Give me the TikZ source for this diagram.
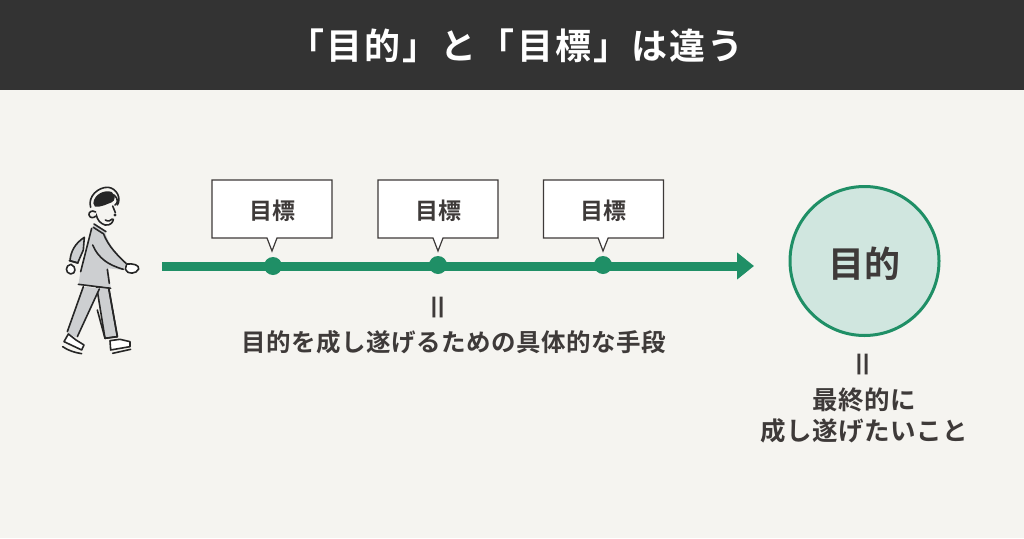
\documentclass[tikz,border=0pt]{standalone}
\usepackage{fontspec}
\usepackage{xcolor}
\usetikzlibrary{arrows.meta,shapes.callouts}
\setmainfont{Noto Sans CJK JP}[BoldFont={* Bold}]
\definecolor{paper}{HTML}{F5F4F0}
\definecolor{band}{HTML}{333333}
\definecolor{ink}{HTML}{3E3A39}
\definecolor{leaf}{HTML}{1F8F66}
\definecolor{pale}{HTML}{D0E6DF}
\definecolor{suit}{HTML}{CDCFD1}
\tikzset{
  markbox/.style={rectangle callout, draw=ink, line width=1.2pt, fill=white!99!paper,
    minimum width=120pt, minimum height=58pt, inner sep=0pt, callout pointer width=10pt,
    text=ink, font=\fontsize{23}{23}\selectfont\bfseries},
  stopdot/.style={circle, fill=leaf, minimum size=18pt, inner sep=0pt},
  equalbar/.style={rotate=90, text=ink, font=\fontsize{28}{28}\selectfont\bfseries, inner sep=0pt},
  caption/.style={text=ink, align=center, inner sep=0pt, font=\fontsize{24.5}{31}\selectfont\bfseries\addfontfeature{LetterSpace=2}},
  figline/.style={draw=black!85, line width=1.6pt, line cap=round, line join=round},
}
\begin{document}
\begin{tikzpicture}[x=1pt,y=-1pt]
\useasboundingbox (0,0) rectangle (1024,538);
\fill[paper] (0,0) rectangle (1024,538);
\fill[band] (0,0) rectangle (1024,90);
\node (title) at (516,46) [text=white, inner sep=0pt, font=\fontsize{36}{36}\selectfont\bfseries\addfontfeature{LetterSpace=6}] {「目的」と「目標」は違う};

% timeline
\coordinate (linestart) at (162,266);
\coordinate (lineend) at (754,266);
\draw[leaf, line width=9pt, -{Triangle[length=17pt,width=26pt]}] (linestart) -- (lineend);
\node (stopA) at (273,266) [stopdot] {};
\node (stopB) at (438,265) [stopdot] {};
\node (stopC) at (603,265) [stopdot] {};

\coordinate (tipA) at (272,251);
\coordinate (tipB) at (438,251);
\coordinate (tipC) at (603,251);
\node (markA) at (272,209) [markbox, callout absolute pointer={(tipA)}] {\raisebox{-1.5pt}[\height][\depth]{目標}};
\node (markB) at (438,209) [markbox, callout absolute pointer={(tipB)}] {\raisebox{-1.5pt}[\height][\depth]{目標}};
\node (markC) at (603.5,209) [markbox, callout absolute pointer={(tipC)}] {\raisebox{-1.5pt}[\height][\depth]{目標}};

\node (barsB) at (440.5,308) [equalbar] {\scalebox{1.45}[1]{=}};
\node (meansB) at (454,342) [caption] {目的を成し遂げるための具体的な手段};

% goal
\node (goal) at (864.5,261) [circle, draw=leaf, line width=3pt, fill=pale, minimum size=149pt, inner sep=0pt,
  text=ink, font=\fontsize{36}{36}\selectfont\bfseries] {\raisebox{-3pt}[\height][\depth]{目的}};
\node (barsG) at (866,365) [equalbar] {\scalebox{1.45}[1]{=}};
\node (meansG) at (864,415) [caption, font=\fontsize{25.5}{31}\selectfont\bfseries\addfontfeature{LetterSpace=2}] {最終的に\\成し遂げたいこと};

% walker, traced in crop units
\begin{scope}[shift={(40,170)}, x=.3333pt, y=-.3333pt]
  % legs
  \path[figline, fill=suit] (170,350) -- (195,505) -- (232,500) -- (206,352) -- cycle;
  \path[fill=paper] (170,415) -- (168,355) -- (140,420) -- (172,470) -- cycle;
  \path[fill=suit] (130,350) -- (178,355) -- (108,502) -- (82,490) -- cycle;
  \draw[figline] (130,350) -- (82,485) (178,357) -- (112,500);
  \draw[figline] (172,420) -- (195,505) -- (232,500) (206,355) -- (232,498);
  % shoes
  \draw[figline, fill=white] (85,492) -- (72,515) -- (125,540) -- (132,525) -- (108,510) -- cycle;
  \draw[figline] (68,530) .. controls (85,542) and (105,548) .. (125,551);
  \draw[figline, fill=white] (210,512) -- (212,540) -- (270,530) -- (270,515) -- (240,508) -- cycle;
  \draw[figline] (218,550) -- (272,538);
  % back arm and hand
  \path[figline, fill=suit] (133,202) .. controls (105,220) and (92,245) .. (90,272) -- (113,279) -- (130,240) -- cycle;
  \draw[figline, fill=white] (93,283) .. controls (75,285) and (75,310) .. (92,312) .. controls (108,312) and (110,290) .. (93,283);
  \draw[figline] (88,272) -- (114,279);
  % torso and front arm
  \path[fill=suit] (155,175) -- (165,160) -- (195,185) .. controls (205,225) and (235,255) .. (258,280) -- (250,300) -- (205,295) -- (212,352) -- (115,345) -- (122,300) -- cycle;
  \draw[figline] (155,175) -- (122,305);
  \draw[figline] (115,343) -- (212,355);
  \draw[figline] (162,162) -- (198,185) (160,172) -- (188,190);
  \draw[figline] (190,190) .. controls (205,230) and (235,258) .. (258,280);
  \draw[figline] (158,225) .. controls (175,265) and (205,285) .. (250,298);
  \draw[figline] (202,298) -- (208,340);
  \draw[figline, fill=white] (260,282) .. controls (280,280) and (298,285) .. (296,297) .. controls (290,312) and (262,315) .. (256,298) -- cycle;
  % head
  \draw[figline] (168,132) .. controls (172,150) and (180,160) .. (195,165) .. controls (212,168) and (220,155) .. (220,148);
  \draw[figline] (196,150) .. controls (205,156) and (212,152) .. (217,147);
  \draw[figline, fill=paper] (167,126) .. controls (155,118) and (145,128) .. (147,135) .. controls (150,145) and (160,145) .. (168,138);
  \draw[figline] (218,108) .. controls (222,118) and (224,122) .. (226,128);
  \fill[black!85] (225,135) circle (5);
  % hair
  \fill[black!85] (160,100) .. controls (162,72) and (195,58) .. (215,66) .. controls (228,76) and (226,92) .. (215,97) .. controls (200,102) and (185,112) .. (165,110) -- cycle;
  \draw[figline] (152,112) .. controls (142,80) and (175,50) .. (205,52) .. controls (230,55) and (245,85) .. (232,105);
  \draw[figline] (222,75) .. controls (235,85) and (235,100) .. (225,105);
\end{scope}
\end{tikzpicture}
\end{document}
